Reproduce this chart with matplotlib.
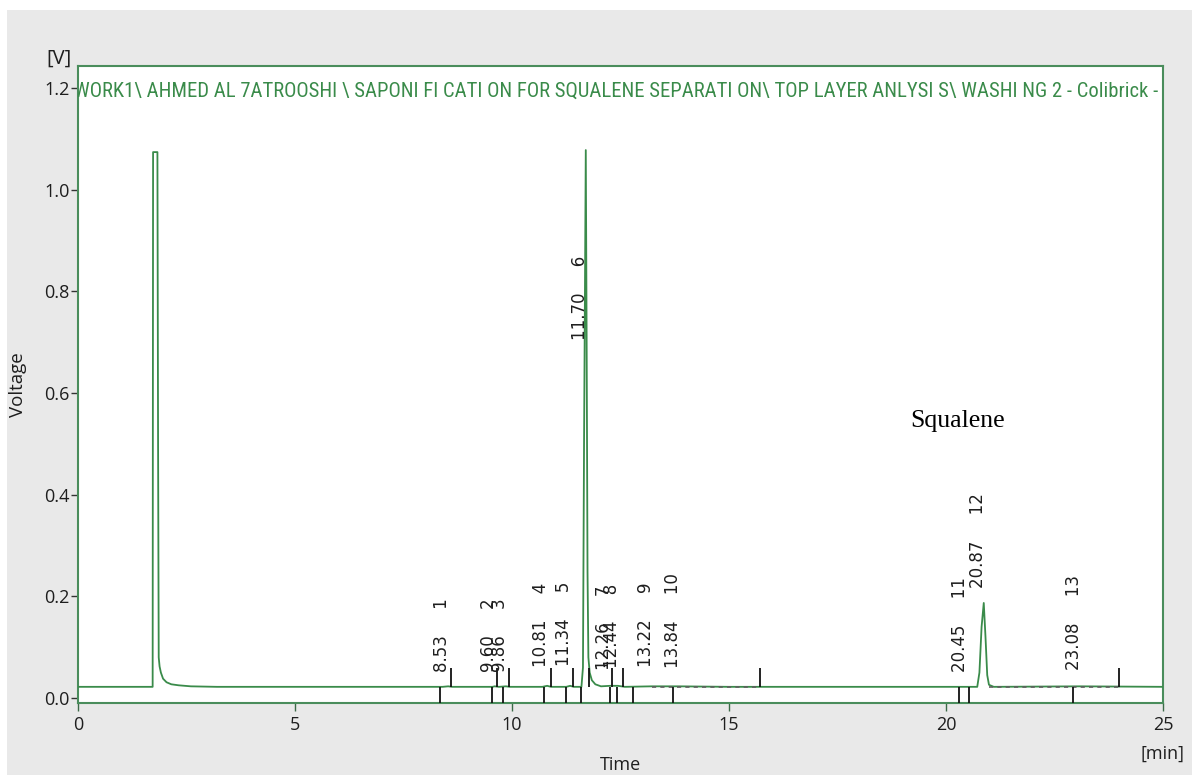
import matplotlib
matplotlib.use("Agg")
import matplotlib.pyplot as plt
from matplotlib import font_manager
from matplotlib.patches import Rectangle
from matplotlib.transforms import offset_copy

# ---- chromatogram trace (time in min, signal in V) ----
trace_time = [0.00, 1.72, 1.73, 1.83, 1.845, 1.86, 1.88, 1.91, 1.96, 2.04, 2.15, 2.32,
              2.60, 3.20, 8.40, 8.53, 8.62, 9.55, 9.60, 9.70, 9.86, 9.95, 10.70, 10.81,
              10.90, 11.25, 11.34, 11.42, 11.60, 11.635, 11.66, 11.70, 11.72, 11.74,
              11.76, 11.79, 11.84, 11.92, 12.05, 12.26, 12.44, 12.60, 13.22, 13.84,
              15.00, 20.45, 20.72, 20.77, 20.82, 20.87, 20.91, 20.95, 20.99, 21.10,
              23.08, 25.00]
trace_volt = [0.022, 0.022, 1.074, 1.074, 0.500, 0.080, 0.062, 0.050, 0.038, 0.031, 0.027, 0.025,
              0.023, 0.022, 0.022, 0.023, 0.022, 0.022, 0.023, 0.022, 0.023, 0.022, 0.022, 0.024,
              0.022, 0.022, 0.024, 0.022, 0.022, 0.060, 0.500, 1.078, 0.700, 0.250,
              0.080, 0.050, 0.035, 0.027, 0.023, 0.024, 0.024, 0.022, 0.023, 0.023,
              0.022, 0.022, 0.022, 0.050, 0.140, 0.187, 0.120, 0.045, 0.026, 0.022,
              0.023, 0.022]

# ---- integration results ----
peak_rt = [8.53, 9.60, 9.86, 10.81, 11.34, 11.70, 12.26, 12.44, 13.22, 13.84, 20.45, 20.87, 23.08]
peak_no = [1, 2, 3, 4, 5, 6, 7, 8, 9, 10, 11, 12, 13]
peak_height = [0.022, 0.022, 0.022, 0.031, 0.033, 1.078, 0.025, 0.030, 0.031, 0.030, 0.021, 0.187, 0.025]
peak_start = [8.35, 9.55, 9.80, 10.73, 11.24, 11.60, 12.25, 12.41, 12.78, 13.71, 20.29, 20.54, 22.92]
peak_end = [8.60, 9.66, 9.94, 10.91, 11.40, 11.77, 12.30, 12.55, 15.72, 23.98]
baseline_segments = [(13.22, 15.72), (21.00, 23.98)]
baseline_level = 0.022

x_ticks = [0, 5, 10, 15, 20, 25]
y_ticks = [0.0, 0.2, 0.4, 0.6, 0.8, 1.0, 1.2]

run_title = ("WORK1\\ AHMED AL 7ATROOSHI \\ SAPONI FI CATI ON FOR SQUALENE SEPARATI ON\\ "
             "TOP LAYER ANLYSI S\\ WASHI NG 2 - Colibrick -")

# ---- fonts ----
entries = font_manager.fontManager.ttflist
available = {f.name for f in entries}
ui_font = "Open Sans" if "Open Sans" in available else "DejaVu Sans"
serif_font = "Liberation Serif" if "Liberation Serif" in available else "DejaVu Serif"

# narrowest sans face on hand for the run path header
header_font = dict(fontfamily="Liberation Sans")
for name in ("Liberation Sans Narrow", "Roboto Condensed", "Open Sans Condensed",
             "Noto Sans Condensed"):
    if name in available:
        header_font = dict(fontfamily=name)
        break
else:
    if any(f.name == "DejaVu Sans" and "condensed" in str(f.stretch) for f in entries):
        header_font = dict(fontfamily="DejaVu Sans", fontstretch="condensed")
    elif "Roboto" in available:
        header_font = dict(fontfamily="Roboto")

GREEN = "#3a8b4a"
FRAME = "#4a8d5c"
INK = "#1e1e1e"

W, H = 1192, 775
fig = plt.figure(figsize=(W / 100, H / 100), dpi=100)
fig.patch.set_facecolor("white")
fig.add_artist(Rectangle((7 / W, 0), 1 - 7 / W, 1 - 10 / H, transform=fig.transFigure,
                         facecolor="#e9e9e9", edgecolor="none", zorder=-5))

ax = fig.add_axes([78 / W, 1 - 703 / H, (1163 - 78) / W, (703 - 66) / H])
ax.set_facecolor("white")
ax.set_xlim(0, 25)
ax.set_ylim(-0.0098, 1.2434)

for s in ax.spines.values():
    s.set_color(FRAME)
    s.set_linewidth(1.5)

ax.set_xticks(x_ticks)
ax.set_xticklabels([str(v) for v in x_ticks], fontfamily=ui_font)
ax.set_yticks(y_ticks)
ax.set_yticklabels([f"{v:.1f}" for v in y_ticks], fontfamily=ui_font)
ax.tick_params(axis="x", direction="out", length=6, width=1, color="#3c6a48",
               labelsize=13, labelcolor=INK, pad=3)
ax.tick_params(axis="y", direction="out", length=5, width=1, color="#333333",
               labelsize=13, labelcolor=INK, pad=1)

# signal
ax.plot(trace_time, trace_volt, color=GREEN, lw=1.3, zorder=3)

# integration baselines
for a, b in baseline_segments:
    ax.hlines(baseline_level, a, b, colors="#5f5f5f", linestyles=(0, (2.5, 2.5)),
              lw=1.2, zorder=4)

# peak start / end markers
ax.vlines(peak_start, ax.get_ylim()[0], baseline_level, colors="#111111", lw=1.3, zorder=4)
ax.vlines(peak_end, baseline_level, 0.060, colors="#111111", lw=1.3, zorder=4)

# retention-time labels
label_tf = offset_copy(ax.transData, fig=fig, x=3, y=0, units="dots")
for rt, n, h in zip(peak_rt, peak_no, peak_height):
    ax.text(rt, min(h + 0.03, 0.705), f"{rt:.2f}     {n}", rotation=90,
            ha="right", va="bottom", fontsize=12, color=INK,
            fontfamily="DejaVu Sans", transform=label_tf, zorder=5)

# run path header, fitted to the plot width and clipped by the frame
title = ax.text(24.88, 1.194, run_title, ha="right", va="center", color=GREEN,
                fontsize=18, clip_on=True, zorder=5, **header_font)
fig.canvas.draw()
w = title.get_window_extent(fig.canvas.get_renderer()).width
title.set_fontsize(18 * 1087 / w)

ax.text(20.27, 0.533, "Squalene", ha="center", va="baseline", fontsize=18.5,
        fontfamily=serif_font, color="black", zorder=5)

# axis captions
fig.text(18 / W, 1 - 385 / H, "Voltage", rotation=90, ha="center", va="center",
         fontsize=13.5, fontfamily=ui_font, color=INK)
fig.text(621 / W, 1 - 756 / H, "Time", ha="center", va="top",
         fontsize=13, fontfamily=ui_font, color=INK)
fig.text(1163 / W, 1 - 754 / H, "[min]", ha="center", va="center",
         fontsize=13, fontfamily=ui_font, color=INK)
fig.text(59 / W, 1 - 59 / H, "[V]", ha="center", va="center",
         fontsize=14.5, fontfamily=ui_font, color=INK)

fig.savefig("out.png", dpi=100)
